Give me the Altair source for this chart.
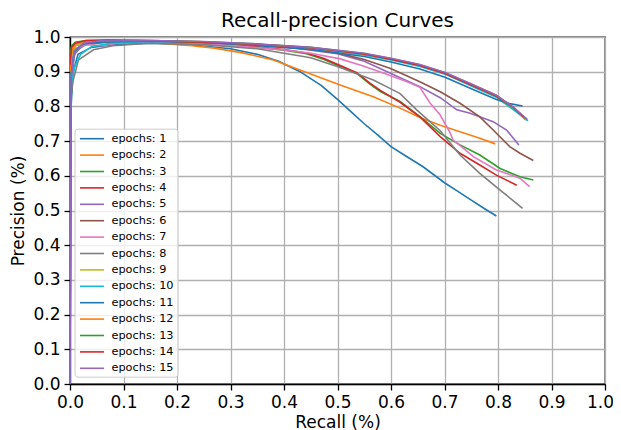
import altair as alt
import pandas as pd

# ---- data (recall, precision) ----
R1 = [0.0, 0.002, 0.006, 0.015, 0.04, 0.08, 0.15, 0.22, 0.30, 0.35, 0.39, 0.43, 0.47, 0.50, 0.525, 0.55, 0.575, 0.60, 0.63, 0.66, 0.70, 0.725, 0.75, 0.775, 0.797]
P1 = [0.0, 0.80, 0.90, 0.95, 0.97, 0.978, 0.982, 0.978, 0.966, 0.95, 0.93, 0.90, 0.86, 0.82, 0.785, 0.75, 0.718, 0.684, 0.655, 0.626, 0.58, 0.555, 0.53, 0.505, 0.484]

R2 = [0.0, 0.004, 0.012, 0.03, 0.07, 0.15, 0.22, 0.27, 0.32, 0.38, 0.43, 0.47, 0.505, 0.567, 0.617, 0.654, 0.692, 0.729, 0.766, 0.795]
P2 = [0.82, 0.93, 0.965, 0.98, 0.985, 0.984, 0.976, 0.968, 0.955, 0.934, 0.905, 0.882, 0.862, 0.828, 0.795, 0.768, 0.746, 0.727, 0.708, 0.692]

R3 = [0.0, 0.003, 0.01, 0.03, 0.07, 0.15, 0.25, 0.35, 0.40, 0.442, 0.475, 0.505, 0.536, 0.56, 0.58, 0.617, 0.657, 0.692, 0.729, 0.766, 0.804, 0.841, 0.866]
P3 = [0.76, 0.90, 0.96, 0.978, 0.986, 0.987, 0.982, 0.97, 0.962, 0.952, 0.935, 0.915, 0.895, 0.865, 0.843, 0.814, 0.767, 0.722, 0.689, 0.66, 0.621, 0.597, 0.588]

R4 = [0.0, 0.003, 0.01, 0.03, 0.07, 0.15, 0.25, 0.35, 0.40, 0.442, 0.475, 0.505, 0.536, 0.56, 0.58, 0.617, 0.654, 0.692, 0.729, 0.766, 0.797, 0.835]
P4 = [0.90, 0.95, 0.975, 0.985, 0.988, 0.987, 0.982, 0.972, 0.964, 0.954, 0.938, 0.918, 0.897, 0.868, 0.846, 0.812, 0.77, 0.713, 0.665, 0.631, 0.602, 0.573]

R5 = [0.0, 0.002, 0.008, 0.025, 0.06, 0.12, 0.20, 0.30, 0.40, 0.50, 0.55, 0.60, 0.654, 0.692, 0.723, 0.748, 0.791, 0.816, 0.839]
P5 = [0.0, 0.85, 0.95, 0.978, 0.987, 0.99, 0.987, 0.982, 0.972, 0.952, 0.93, 0.895, 0.857, 0.825, 0.79, 0.78, 0.756, 0.732, 0.689]

R6 = [0.0, 0.003, 0.01, 0.03, 0.07, 0.15, 0.25, 0.35, 0.45, 0.505, 0.55, 0.598, 0.654, 0.692, 0.729, 0.766, 0.791, 0.822, 0.841, 0.866]
P6 = [0.78, 0.92, 0.965, 0.982, 0.988, 0.988, 0.984, 0.976, 0.965, 0.952, 0.935, 0.91, 0.871, 0.842, 0.809, 0.77, 0.732, 0.684, 0.665, 0.644]

R7 = [0.0, 0.003, 0.01, 0.03, 0.06, 0.10, 0.20, 0.30, 0.40, 0.45, 0.505, 0.545, 0.579, 0.629, 0.654, 0.673, 0.692, 0.71, 0.716, 0.735, 0.754, 0.797, 0.841, 0.859]
P7 = [0.85, 0.93, 0.965, 0.978, 0.975, 0.985, 0.984, 0.976, 0.963, 0.953, 0.937, 0.918, 0.90, 0.872, 0.855, 0.81, 0.775, 0.725, 0.703, 0.68, 0.655, 0.617, 0.593, 0.569]

R8 = [0.0, 0.005, 0.016, 0.044, 0.08, 0.15, 0.25, 0.35, 0.45, 0.505, 0.567, 0.598, 0.617, 0.648, 0.692, 0.729, 0.766, 0.804, 0.835, 0.846]
P8 = [0.80, 0.87, 0.934, 0.963, 0.975, 0.982, 0.978, 0.966, 0.94, 0.912, 0.876, 0.852, 0.837, 0.79, 0.73, 0.66, 0.607, 0.559, 0.52, 0.506]

R9 = [0.0, 0.003, 0.01, 0.03, 0.07, 0.15, 0.25, 0.35, 0.45, 0.55, 0.60, 0.654, 0.701, 0.748, 0.797, 0.829, 0.853]
P9 = [0.88, 0.95, 0.975, 0.985, 0.99, 0.99, 0.986, 0.979, 0.968, 0.95, 0.936, 0.918, 0.896, 0.864, 0.83, 0.796, 0.76]

R10 = [0.0, 0.004, 0.009, 0.02, 0.04, 0.08, 0.15, 0.25, 0.35, 0.45, 0.55, 0.60, 0.654, 0.701, 0.748, 0.797, 0.829, 0.856]
P10 = [0.85, 0.88, 0.914, 0.95, 0.972, 0.983, 0.987, 0.985, 0.978, 0.967, 0.948, 0.934, 0.915, 0.893, 0.86, 0.826, 0.79, 0.758]

R11 = [0.0, 0.002, 0.008, 0.025, 0.06, 0.15, 0.25, 0.35, 0.45, 0.55, 0.60, 0.654, 0.701, 0.748, 0.797, 0.822, 0.846]
P11 = [0.0, 0.90, 0.96, 0.98, 0.986, 0.988, 0.984, 0.976, 0.964, 0.944, 0.928, 0.908, 0.884, 0.852, 0.82, 0.808, 0.801]

R12 = [0.0, 0.003, 0.01, 0.03, 0.07, 0.15, 0.25, 0.35, 0.45, 0.55, 0.60, 0.654, 0.701, 0.748, 0.797, 0.829, 0.851]
P12 = [0.90, 0.96, 0.98, 0.988, 0.99, 0.989, 0.986, 0.979, 0.969, 0.951, 0.938, 0.92, 0.897, 0.866, 0.832, 0.797, 0.762]

R13 = [0.0, 0.003, 0.01, 0.03, 0.07, 0.15, 0.25, 0.35, 0.45, 0.55, 0.60, 0.654, 0.701, 0.748, 0.797, 0.829, 0.852]
P13 = [0.95, 0.975, 0.985, 0.99, 0.992, 0.99, 0.986, 0.98, 0.97, 0.952, 0.937, 0.919, 0.896, 0.864, 0.829, 0.795, 0.765]

R14 = [0.0, 0.003, 0.01, 0.03, 0.07, 0.15, 0.25, 0.35, 0.45, 0.55, 0.60, 0.654, 0.701, 0.748, 0.797, 0.829, 0.848]
P14 = [0.92, 0.97, 0.983, 0.99, 0.99, 0.989, 0.985, 0.979, 0.969, 0.951, 0.936, 0.918, 0.895, 0.863, 0.83, 0.797, 0.77]

R15 = [0.0, 0.002, 0.008, 0.025, 0.06, 0.15, 0.25, 0.35, 0.45, 0.55, 0.60, 0.654, 0.701, 0.748, 0.797, 0.829, 0.855]
P15 = [0.0, 0.88, 0.96, 0.982, 0.99, 0.99, 0.987, 0.98, 0.97, 0.953, 0.939, 0.921, 0.898, 0.866, 0.832, 0.797, 0.762]

RECALLS = [R1, R2, R3, R4, R5, R6, R7, R8, R9, R10, R11, R12, R13, R14, R15]
PRECISIONS = [P1, P2, P3, P4, P5, P6, P7, P8, P9, P10, P11, P12, P13, P14, P15]
EPOCH_LABELS = [f"epochs: {i}" for i in range(1, 16)]
COLORS = ["#1f77b4", "#ff7f0e", "#2ca02c", "#d62728", "#9467bd",
          "#8c564b", "#e377c2", "#7f7f7f", "#bcbd22", "#17becf",
          "#1f77b4", "#ff7f0e", "#2ca02c", "#d62728", "#9467bd"]
TICKS = [0.0, 0.1, 0.2, 0.3, 0.4, 0.5, 0.6, 0.7, 0.8, 0.9, 1.0]

rows = []
for label, rs, ps in zip(EPOCH_LABELS, RECALLS, PRECISIONS):
    for i, (r, p) in enumerate(zip(rs, ps)):
        rows.append({"series": label, "recall": r, "precision": p, "idx": i})
df = pd.DataFrame(rows)

FONT = "DejaVu Sans"

chart = alt.Chart(df).mark_line(strokeWidth=1.6, clip=True).encode(
    x=alt.X("recall:Q",
            scale=alt.Scale(domain=[0, 1], nice=False, zero=False),
            axis=alt.Axis(values=TICKS, format=".1f", title="Recall (%)", titlePadding=4,
                          labelOffset={"condition": {"test": "datum.value >= 1", "value": -5},
                                       "value": 0})),
    y=alt.Y("precision:Q",
            scale=alt.Scale(domain=[0, 1], nice=False, zero=False),
            axis=alt.Axis(values=TICKS, format=".1f", title="Precision (%)", titlePadding=5)),
    color=alt.Color("series:N",
                    scale=alt.Scale(domain=EPOCH_LABELS, range=COLORS),
                    legend=alt.Legend(
                        title=None, orient="none", legendX=4.5, legendY=91.7,
                        symbolType="M-0.75,0H3.25", symbolSize=144, symbolStrokeWidth=1.6,
                        symbolFillColor="transparent", symbolOpacity=1,
                        labelFontSize=11.3, labelFont=FONT, labelColor="black",
                        labelOffset=20, rowPadding=3.4, padding=3, labelLimit=200,
                        fillColor="rgba(255,255,255,0.8)", strokeColor="#cccccc",
                        cornerRadius=3)),
    order=alt.Order("idx:Q"),
).properties(
    width=535, height=347,
    title=alt.Title("Recall-precision Curves", fontSize=20, font=FONT, fontWeight="normal",
                    color="black", anchor="middle", frame="group", offset=-3),
    autosize=alt.AutoSizeParams(type="none"),
    padding={"left": 62, "top": 29, "right": 8, "bottom": 46},
).configure_axis(
    domainColor="black", domainWidth=1.3, tickColor="black", tickSize=6, tickWidth=1.3,
    labelFontSize=17, labelFont=FONT, labelColor="black", labelPadding=4,
    labelFlush=False, labelOverlap=False,
    titleFontSize=17, titleFont=FONT, titleFontWeight="normal", titleColor="black",
    gridColor="#b0b0b0", gridWidth=1.3,
).configure_view(
    stroke="black", strokeWidth=1.3,
)

chart.save("out.html", embed_options={"renderer": "svg", "actions": False})
